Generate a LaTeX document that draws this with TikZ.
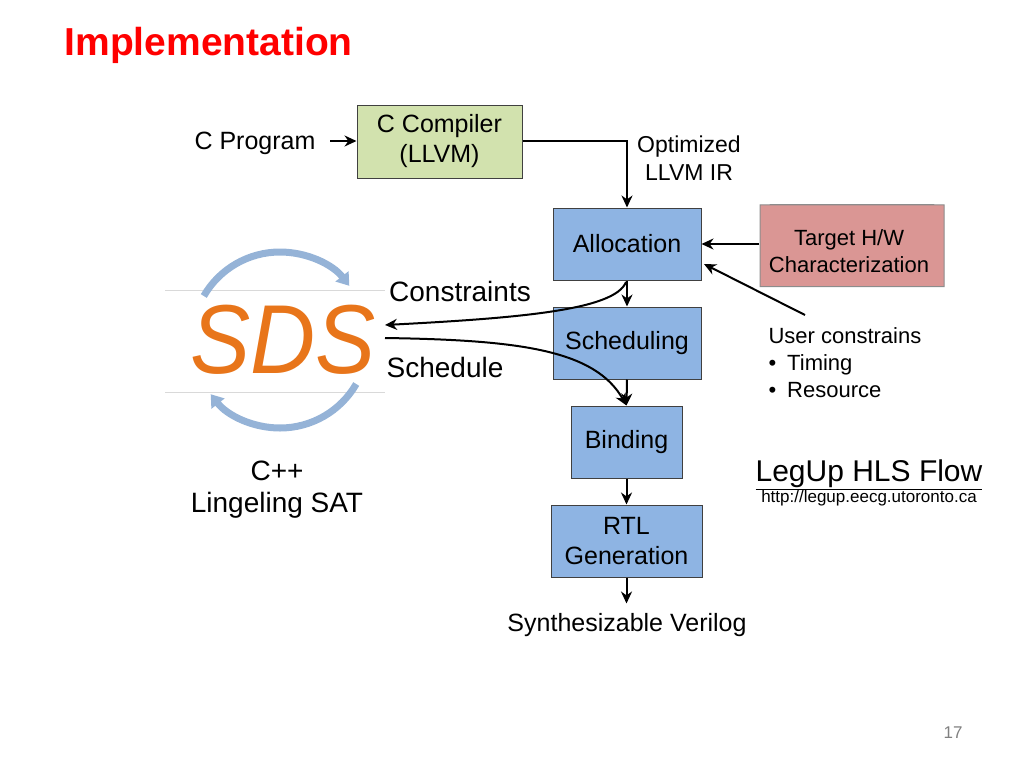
\documentclass[tikz,border=0pt]{standalone}
\usepackage{fontspec}
\setmainfont{Liberation Sans}
\usetikzlibrary{arrows.meta,shapes.geometric}
\definecolor{boxblue}{HTML}{8EB4E3}
\definecolor{boxgreen}{HTML}{D2E2AE}
\definecolor{cylred}{HTML}{DA9694}
\definecolor{arcblue}{HTML}{95B3D7}
\definecolor{sdsorange}{HTML}{E8751A}
\begin{document}
\begin{tikzpicture}[x=1pt,y=-1pt,
  blk/.style={draw=black!75,line width=1pt,fill=boxblue,align=center,font=\fontsize{25}{30}\selectfont},
  txt/.style={align=center,font=\fontsize{25}{30}\selectfont},
  con/.style={line width=2pt,-{Stealth[length=12pt,width=11pt]}}]
\useasboundingbox (0,0) rectangle (1024,768);
\node[anchor=west,text=red,font=\fontsize{39}{44}\selectfont\bfseries] (title) at (61,45) {Implementation};
\node[blk,fill=boxgreen,minimum width=165,minimum height=73] (cc) at (439.5,141.5) {C Compiler\\(LLVM)};
\node[txt] (cp) at (255,143) {C Program};
\node[txt,font=\fontsize{23}{28}\selectfont] (opt) at (689,158) {Optimized\\LLVM IR};
\node[blk,minimum width=148,minimum height=72] (al) at (627,244) {Allocation};
\node[blk,minimum width=148,minimum height=72] (sc) at (627,343) {Scheduling};
\node[blk,minimum width=111,minimum height=72] (bi) at (626.5,442) {Binding};
\node[blk,minimum width=151,minimum height=72] (rtl) at (626.5,541) {RTL\\Generation};
\node[txt] (sv) at (627,625) {Synthesizable Verilog};
\node[cylinder,shape border rotate=90,aspect=0.12,draw=black!45,line width=1pt,fill=cylred,minimum width=184,minimum height=82,inner sep=1pt] (hw) at (852,246) {};
\node[align=center,font=\fontsize{22}{27}\selectfont] (hwt) at (849,251) {Target H/W\\Characterization};
\node[anchor=north west,align=left,font=\fontsize{22}{27}\selectfont] (uc) at (765,324) {User constrains\\\textbullet\enspace Timing\\\textbullet\enspace Resource};
\coordinate (ucp) at (805,315);
\node[txt,font=\fontsize{28}{32}\selectfont] (cons) at (460,291) {Constraints};
\node[txt,font=\fontsize{28}{32}\selectfont] (sch) at (445,367) {Schedule};
\node[txt,font=\fontsize{28}{32}\selectfont] (sat) at (277,490) {C++\\Lingeling SAT};
\node[font=\fontsize{30}{34}\selectfont] (leg) at (869,475) {\underline{LegUp HLS Flow}};
\node[font=\fontsize{17}{20}\selectfont] (url) at (869,498) {http://legup.eecg.utoronto.ca};
\node[text=black!50,font=\fontsize{17}{20}\selectfont] (pg) at (953,733) {17};
% SDS logo
\draw[black!15,line width=1pt] (165,290) -- (385,290) (165,392) -- (385,392);
\draw[arcblue,line width=7pt,-{Triangle[length=12pt,width=16pt]}] (280,340) ++(-150:88) arc[start angle=-150,end angle=-38,radius=88];
\draw[arcblue,line width=7pt,-{Triangle[length=12pt,width=16pt]}] (280,340) ++(30:88) arc[start angle=30,end angle=142,radius=88];
\node[text=sdsorange,font=\fontsize{98}{98}\selectfont\itshape,xscale=0.92] (sds) at (283,340) {SDS};
\coordinate (sdsin) at (385,325);
\coordinate (sdsout) at (385,338);
% connectors
\draw[con] (330,141) -- (cc.west|-0,141);
\draw[con] (cc.east|-0,141) -| (al.north);
\draw[con] (al.south) -- (sc.north);
\draw[con] (sc.south) -- (bi.north);
\draw[con] (bi.south) -- (rtl.north);
\draw[con] (rtl.south) -- ++(0,26);
\draw[con] (hw.west|-0,244) -- (al.east);
\draw[con] (ucp) -- (704,264);
\draw[con] (626,282) .. controls (615,310) and (520,318) .. (sdsin);
\draw[con] (sdsout) .. controls (520,340) and (595,350) .. (bi.north);
\end{tikzpicture}
\end{document}
